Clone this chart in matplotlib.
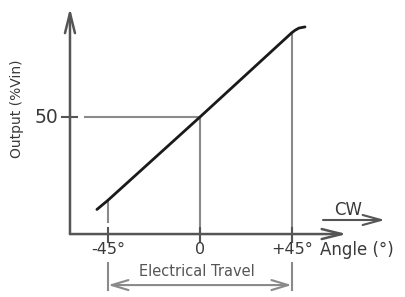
import matplotlib.pyplot as plt
from matplotlib.patches import FancyArrowPatch

# output curve of the sensor (angle in degrees, output in %Vin)
curve_angle = [-50.5, -45, 0, 45, 46.5, 48.5, 51.5]
curve_output = [10.5, 14.5, 50, 86, 87, 88, 88.5]

# marked angles on the x axis and the marked output level
tick_angles = [-45, 0, 45]
tick_labels = ['-45°', '0', '+45°']
mid_output = 50

axis_col = '#555555'
guide_col = '#8a8a8a'
text_col = '#3a3a3a'


def arrow(ax, p0, p1, style, col, lw, scale=12):
    a = FancyArrowPatch(p0, p1, arrowstyle=style, color=col, lw=lw,
                        mutation_scale=scale, shrinkA=0, shrinkB=0)
    ax.add_patch(a)


def main():
    fig = plt.figure(figsize=(4.06, 2.97), dpi=100)
    ax = fig.add_axes([0, 0, 1, 1])
    ax.set_xlim(-98, 101)
    ax.set_ylim(-26.9, 100)
    ax.axis('off')

    x0 = -63.7  # where the y axis sits

    # axes with arrow heads
    arrow(ax, (x0, 0), (x0, 96.6), '->,head_length=1.2,head_width=0.3', axis_col, 1.8)
    arrow(ax, (x0, 0), (72, 0), '->,head_length=1.2,head_width=0.3', axis_col, 1.8)

    # 50% level
    ax.plot([-67.6, -60.3], [mid_output, mid_output], color=axis_col, lw=1.5)
    ax.plot([-56.4, 0], [mid_output, mid_output], color=guide_col, lw=1.5)
    ax.text(-69.5, mid_output, '50', ha='right', va='center', fontsize=13.5, color=text_col)

    # verticals at the marked angles
    left, mid, right = tick_angles
    ax.plot([left, left], [curve_output[1] - 1, 5], color=guide_col, lw=1.5)
    ax.plot([mid, mid], [mid_output, -3.4], color=guide_col, lw=1.5)
    ax.plot([right, right], [curve_output[3], -3.4], color=guide_col, lw=1.5)
    for a in tick_angles:
        ax.plot([a, a], [2.6, -3.4], color=axis_col, lw=1.5)
    for a in (left, right):
        ax.plot([a, a], [-12.5, -24], color=guide_col, lw=1.5)

    for a, lab in zip(tick_angles, tick_labels):
        ax.text(a, -6.8, lab, ha='center', va='center', fontsize=11.5, color=text_col)
    ax.text(59, -6.8, 'Angle (°)', ha='left', va='center', fontsize=12, color=text_col)

    # the output line
    ax.plot(curve_angle, curve_output, color='#1a1a1a', lw=2, solid_capstyle='round')

    # electrical travel span
    arrow(ax, (left, -21.8), (right, -21.8), '<->,head_length=1.0,head_width=0.3', guide_col, 1.5)
    ax.text((left + right) / 2 - 1.5, -16.2, 'Electrical Travel', ha='center', va='center',
            fontsize=10.5, color='#555555')

    # direction of rotation
    ax.text(72.5, 10.3, 'CW', ha='center', va='center', fontsize=12, color=text_col)
    arrow(ax, (60.3, 6), (90.7, 6), '->,head_length=1.1,head_width=0.3', axis_col, 1.5)

    ax.text(-89.7, 53.4, 'Output (%Vin)', rotation=90, ha='center', va='center',
            fontsize=10, color=text_col)

    fig.savefig('out.png', dpi=100)
    plt.close(fig)


if __name__ == "__main__":
    main()
